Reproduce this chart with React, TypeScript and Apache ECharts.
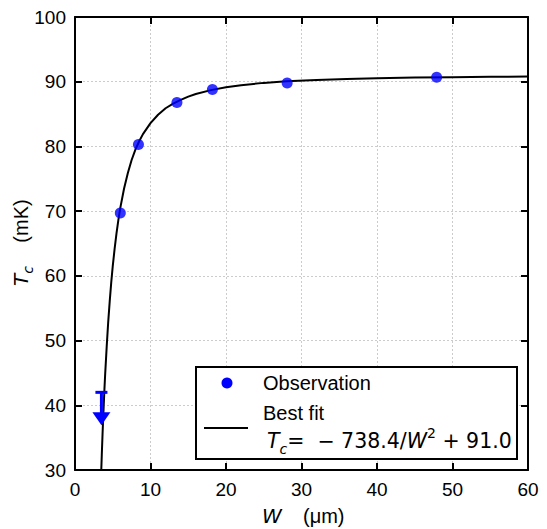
import React, { useEffect, useRef } from "react";
import * as echarts from "echarts";

// Observations (W in µm, Tc in mK)
const obsW = [6.0, 8.4, 13.5, 18.2, 28.1, 47.9];
const obsTc = [69.7, 80.3, 86.8, 88.8, 89.8, 90.7];

// Upper limit measurement
const limitW = [3.5];
const limitTc = [42.0];

// Best fit curve samples
const fitW = [3.48, 3.55, 3.65, 3.8, 3.9, 4.0, 4.2, 4.4, 4.6, 4.8, 5.0, 5.25, 5.5, 5.75, 6, 6.5, 7, 7.5, 8, 8.5, 9, 10, 11, 12, 13, 14, 15, 16, 18, 20, 22, 25, 28, 32, 36, 40, 45, 50, 55, 60];
const fitTc = [30.0, 32.4, 35.6, 39.9, 42.5, 44.9, 49.1, 52.9, 56.1, 59.0, 61.5, 64.2, 66.6, 68.7, 70.5, 73.5, 75.9, 77.9, 79.5, 80.8, 81.9, 83.6, 84.9, 85.9, 86.6, 87.2, 87.7, 88.1, 88.7, 89.15, 89.47, 89.82, 90.06, 90.28, 90.43, 90.54, 90.64, 90.70, 90.76, 90.80];

const xTicks = [0, 10, 20, 30, 40, 50, 60];
const yTicks = [30, 40, 50, 60, 70, 80, 90, 100];

export default function App() {
  const ref = useRef<HTMLDivElement>(null);
  useEffect(() => {
    const chart = echarts.init(ref.current!, null, { renderer: "svg" });
    const font = "'Liberation Sans', Arial, sans-serif";
    const mathFont = "'DejaVu Sans', sans-serif";
    const gridLine = { show: true, lineStyle: { color: "#cccccc", type: [2, 2] as any, width: 1 } };
    const baseX = {
      type: "value" as const,
      min: xTicks[0],
      max: xTicks[xTicks.length - 1],
      interval: 10,
      axisLine: { show: true, onZero: false, lineStyle: { color: "#000", width: 2 } },
      axisTick: { show: true, inside: true, length: 7, lineStyle: { color: "#000", width: 2 } },
    };
    const baseY = {
      type: "value" as const,
      min: yTicks[0],
      max: yTicks[yTicks.length - 1],
      interval: 10,
      axisLine: { show: true, onZero: false, lineStyle: { color: "#000", width: 2 } },
      axisTick: { show: true, inside: true, length: 7, lineStyle: { color: "#000", width: 2 } },
    };
    chart.setOption({
      animation: false,
      backgroundColor: "#fff",
      grid: { left: 75, top: 17, width: 453, height: 453, containLabel: false },
      xAxis: [
        {
          ...baseX,
          position: "bottom",
          splitLine: gridLine,
          axisLabel: { color: "#000", fontSize: 19, fontFamily: font, margin: 10 },
        },
        { ...baseX, position: "top", splitLine: { show: false }, axisLabel: { show: false } },
      ],
      yAxis: [
        {
          ...baseY,
          position: "left",
          splitLine: gridLine,
          axisLabel: { color: "#000", fontSize: 19, fontFamily: font, margin: 9 },
        },
        { ...baseY, position: "right", splitLine: { show: false }, axisLabel: { show: false } },
      ],
      series: [
        {
          type: "line",
          data: fitW.map((w, i) => [w, fitTc[i]]),
          showSymbol: false,
          symbol: "none",
          lineStyle: { color: "#000", width: 2 },
          z: 3,
        },
        {
          type: "scatter",
          data: obsW.map((w, i) => [w, obsTc[i]]),
          symbol: "circle",
          symbolSize: 11,
          itemStyle: { color: "#0000ff" },
          z: 4,
        },
        {
          type: "custom",
          data: limitW.map((w, i) => [w, limitTc[i]]),
          z: 4,
          renderItem: (params: any, api: any) => {
            const p = api.coord([api.value(0), api.value(1)]);
            const x = p[0];
            const y = p[1];
            return {
              type: "group",
              children: [
                { type: "line", shape: { x1: x - 6, y1: y, x2: x + 6, y2: y }, style: { stroke: "#0000ff", lineWidth: 3 } },
                { type: "line", shape: { x1: x, y1: y, x2: x, y2: y + 22 }, style: { stroke: "#0000ff", lineWidth: 3 } },
                {
                  type: "polygon",
                  shape: { points: [[x - 9, y + 20], [x + 9, y + 20], [x, y + 33]] },
                  style: { fill: "#0000ff" },
                },
              ],
            };
          },
        },
      ],
      graphic: [
        // Y axis title
        {
          type: "text",
          x: 21,
          y: 276,
          rotation: Math.PI / 2,
          style: {
            text: "{i|T}{s|c}",
            align: "center",
            verticalAlign: "middle",
            rich: {
              i: { fontFamily: mathFont, fontStyle: "italic", fontSize: 20, lineHeight: 28, verticalAlign: "middle", fill: "#000" },
              s: { fontFamily: mathFont, fontStyle: "italic", fontSize: 14, lineHeight: 28, verticalAlign: "bottom", fill: "#000" },
            },
          },
        },
        {
          type: "text",
          x: 21,
          y: 221,
          rotation: Math.PI / 2,
          style: {
            text: "(mK)",
            align: "center",
            verticalAlign: "middle",
            fontFamily: font,
            fontSize: 20,
            fill: "#000",
          },
        },
        // X axis title
        {
          type: "text",
          x: 262,
          y: 516,
          style: {
            text: "W",
            verticalAlign: "middle",
            fontFamily: mathFont,
            fontStyle: "italic",
            fontSize: 20,
            fill: "#000",
          },
        },
        {
          type: "text",
          x: 303,
          y: 516,
          style: { text: "(μm)", verticalAlign: "middle", fontFamily: font, fontSize: 20, fill: "#000" },
        },
        // Legend box
        {
          type: "rect",
          shape: { x: 196, y: 367, width: 321, height: 92 },
          style: { fill: "#fff", stroke: "#000", lineWidth: 2 },
          z: 100,
        },
        {
          type: "circle",
          shape: { cx: 227, cy: 383, r: 5.5 },
          style: { fill: "#0000ff" },
          z: 101,
        },
        {
          type: "text",
          x: 263,
          y: 383,
          style: { text: "Observation", fontFamily: font, fontSize: 20, fill: "#000", verticalAlign: "middle" },
          z: 101,
        },
        {
          type: "text",
          x: 263,
          y: 413,
          style: { text: "Best fit", fontFamily: font, fontSize: 20, fill: "#000", verticalAlign: "middle" },
          z: 101,
        },
        {
          type: "line",
          shape: { x1: 204, y1: 428, x2: 248, y2: 428 },
          style: { stroke: "#000", lineWidth: 2 },
          z: 101,
        },
        {
          type: "text",
          x: 267,
          y: 441,
          style: {
            text: "{i|T}{s|c}{n|=  − 738.4/}{i|W}{p|2}{n| + 91.0}",
            verticalAlign: "middle",
            rich: {
              i: { fontFamily: mathFont, fontStyle: "italic", fontSize: 20.5, lineHeight: 30, verticalAlign: "middle", fill: "#000" },
              s: { fontFamily: mathFont, fontStyle: "italic", fontSize: 14, lineHeight: 30, verticalAlign: "bottom", fill: "#000" },
              p: { fontFamily: mathFont, fontSize: 14, lineHeight: 30, verticalAlign: "top", fill: "#000" },
              n: { fontFamily: mathFont, fontSize: 20.5, lineHeight: 30, verticalAlign: "middle", fill: "#000" },
            },
          },
          z: 101,
        },
      ],
    });
    return () => chart.dispose();
  }, []);
  return (
    <div
      ref={ref}
      style={{ position: "absolute", left: 0, top: 0, width: 547, height: 529 }}
    />
  );
}
